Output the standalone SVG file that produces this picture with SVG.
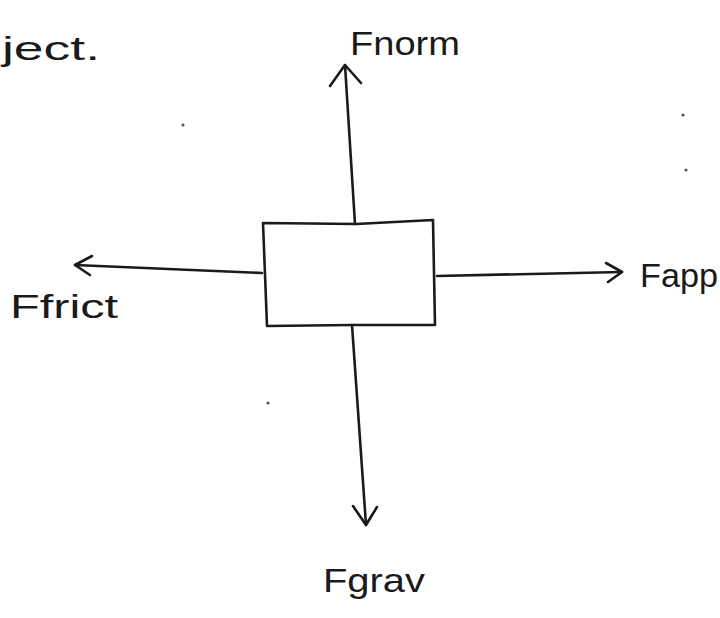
<svg xmlns="http://www.w3.org/2000/svg" width="720" height="618" viewBox="0 0 720 618">
<style>
.ink{fill:none;stroke:#1a1a1a;stroke-width:2.6;stroke-linecap:round;stroke-linejoin:round}
.lbl{font-family:"Liberation Sans",Arial,sans-serif;font-size:34px;fill:#1a1a1a}
.dot{fill:#555}
</style>
<rect width="720" height="618" fill="#fff"/>
<g id="box">
<path class="ink" d="M263,223 L356,224 L433,220 L435,325 L352,325 L267,326 Z"/>
</g>
<g id="connectors">
<path class="ink" d="M355,224 L345,65"/>
<path class="ink" d="M330,86 L345,65 L361,83"/>
<path class="ink" d="M262,273 L75,265"/>
<path class="ink" d="M92,256 L75,265 L90,275"/>
<path class="ink" d="M437,276 L622,272"/>
<path class="ink" d="M606,263 L622,272 L608,282"/>
<path class="ink" d="M352,325 L366,525"/>
<path class="ink" d="M353,506 L366,525 L377,507"/>
</g>
<g id="labels">
<text class="lbl" x="2" y="60" textLength="98" lengthAdjust="spacingAndGlyphs">ject.</text>
<text class="lbl" x="350" y="55" textLength="110" lengthAdjust="spacingAndGlyphs">Fnorm</text>
<text class="lbl" x="10" y="318" textLength="108" lengthAdjust="spacingAndGlyphs">Ffrict</text>
<text class="lbl" x="640" y="287" textLength="78" lengthAdjust="spacingAndGlyphs">Fapp</text>
<text class="lbl" x="323" y="592" textLength="102" lengthAdjust="spacingAndGlyphs">Fgrav</text>
</g>
<g id="specks">
<circle class="dot" cx="183" cy="125" r="1.6"/>
<circle class="dot" cx="683" cy="115" r="1.6"/>
<circle class="dot" cx="686" cy="170" r="1.6"/>
<circle class="dot" cx="268" cy="403" r="1.6"/>
</g>
</svg>
